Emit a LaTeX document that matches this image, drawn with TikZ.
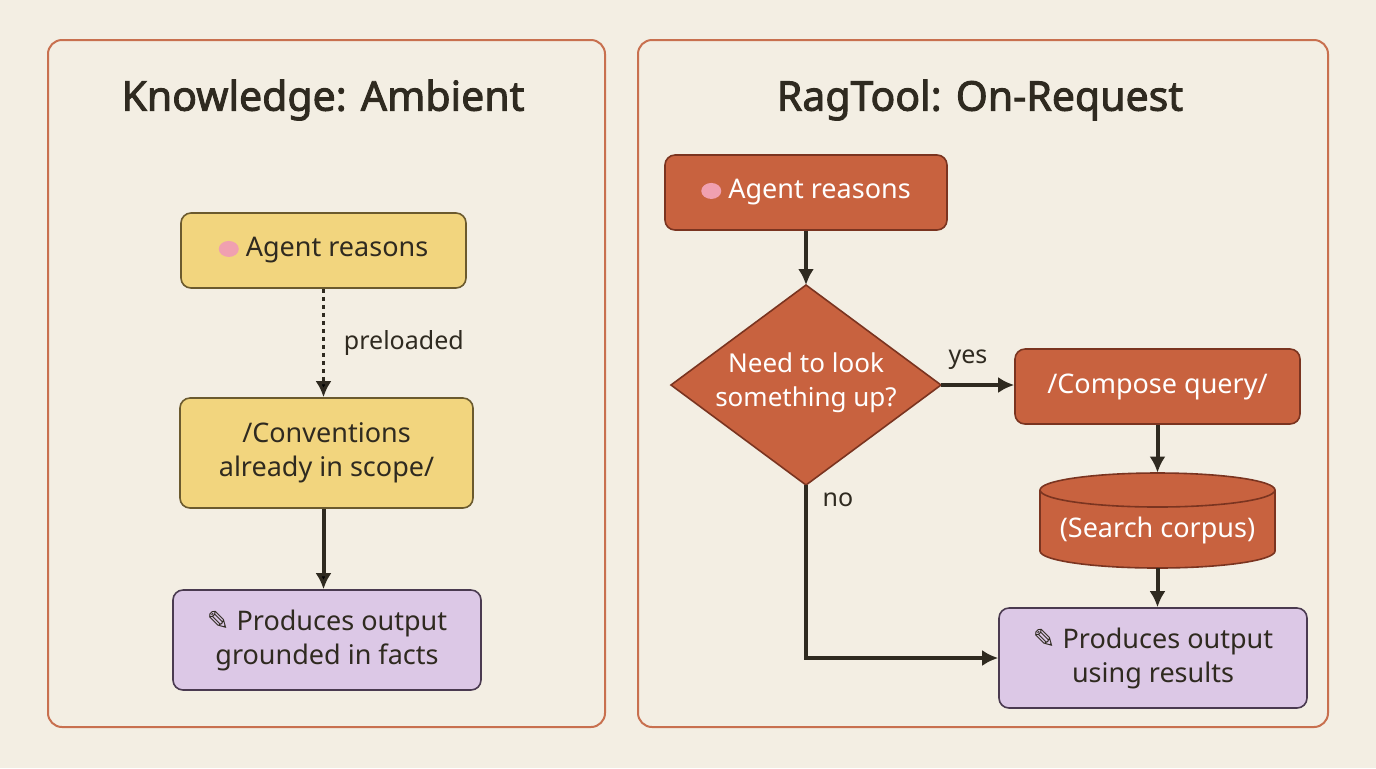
\documentclass[tikz,border=0pt]{standalone}
\usepackage{fontspec}
\setmainfont{Noto Sans}
\newfontfamily\titlef{Noto Sans}[FakeBold=2.2]
\newfontfamily\symf{DejaVu Sans}
\usetikzlibrary{arrows.meta}
\definecolor{bg}{HTML}{F3EEE3}
\definecolor{panel}{HTML}{C8704F}
\definecolor{ink}{HTML}{2F2A20}
\definecolor{yel}{HTML}{F2D57E}
\definecolor{yelb}{HTML}{6B5A2E}
\definecolor{org}{HTML}{C8623F}
\definecolor{orgb}{HTML}{7A3420}
\definecolor{pur}{HTML}{DCC8E6}
\definecolor{purb}{HTML}{4A3A50}
\definecolor{brain}{HTML}{F0A0B0}
\begin{document}
\begin{tikzpicture}[x=0.5pt,y=-0.5pt,
 box/.style={draw,line width=0.8pt,rounded corners=5pt,align=center,font=\fontsize{13.5}{17}\selectfont,inner sep=2pt},
 ybox/.style={box,fill=yel,draw=yelb,text=ink},
 obox/.style={box,fill=org,draw=orgb,text=white},
 pbox/.style={box,fill=pur,draw=purb,text=ink},
 arr/.style={draw=ink,line width=2pt,-{Latex[length=8pt,width=8pt]}},
 lab/.style={font=\fontsize{12.5}{14}\selectfont,text=ink},
 ttl/.style={font=\titlef\fontsize{20.5}{24}\selectfont,text=ink},
 panelbox/.style={draw=panel,line width=1pt,rounded corners=7pt}]
\fill[bg] (0,0) rectangle (1376,768);
\useasboundingbox (0,0) rectangle (1376,768);
\draw[panelbox] (48,40) rectangle (605,727);
\draw[panelbox] (638,40) rectangle (1328,727);
\node[ttl] (t1) at (323,100) {Knowledge: Ambient};
\node[ttl] (t2) at (980,100) {RagTool: On-Request};
% left
\node[ybox,minimum width=142.5pt,minimum height=37.5pt] (la) at (323.5,250.5) {\tikz\fill[brain](0,0) ellipse (5pt and 4pt);\ Agent reasons};
\node[ybox,minimum width=146.5pt,minimum height=55pt] (lc) at (326.5,453) {/Conventions\\already in scope/};
\node[pbox,minimum width=154pt,minimum height=50pt] (lp) at (327,640) {{\symf ✎}\ Produces output\\grounded in facts};
\draw[arr,dotted,line width=1.8pt] (la) -- (la |- lc.north) node[midway,right=6pt,lab] {preloaded};
\draw[arr] (la |- lc.south) -- (la |- lp.north);
% right
\node[obox,minimum width=141pt,minimum height=37.5pt] (ra) at (806,192.5) {\tikz\fill[brain](0,0) ellipse (5pt and 4pt);\ Agent reasons};
\coordinate (dt) at (806,285); \coordinate (db) at (806,485);
\coordinate (dl) at (671,385); \coordinate (dr) at (941,385);
\draw[fill=org,draw=orgb,line width=0.8pt] (dt) -- (dr) -- (db) -- (dl) -- cycle;
\node[align=center,text=white,font=\fontsize{13}{17}\selectfont] (dtx) at (806,383) {Need to look\\something up?};
\node[obox,minimum width=142.5pt,minimum height=37.5pt] (rc) at (1157.5,386.5) {/Compose query/};
% cylinder
\fill[org,draw=orgb,line width=0.8pt] (1157.5,551) ellipse (117.5 and 17);
\fill[org] (1040,490) rectangle (1275,551);
\draw[orgb,line width=0.8pt] (1040,490) -- (1040,551) (1275,490) -- (1275,551);
\fill[org,draw=orgb,line width=0.8pt] (1157.5,490) ellipse (117.5 and 17);
\node[minimum width=117.5pt,minimum height=47.5pt,inner sep=0] (cy) at (1157.5,520.5) {};
\node[text=white,font=\fontsize{13.5}{17}\selectfont] (cyt) at (1157.5,530) {(Search corpus)};
\node[pbox,minimum width=154pt,minimum height=50pt] (rp) at (1153,658) {{\symf ✎}\ Produces output\\using results};
\coordinate (corner) at (806,658);
\draw[arr] (ra) -- (dt);
\draw[arr] (dr) -- (dr -| rc.west);
\node[lab] (yes) at (968,360) {yes};
\draw[arr] (rc.south) -- (cy.north);
\draw[arr] (cy.south) -- (rp.north -| cy.south);
\draw[arr] (db) -- (corner) -- (rp.west);
\node[lab] (no) at (838,500) {no};
\end{tikzpicture}
\end{document}
